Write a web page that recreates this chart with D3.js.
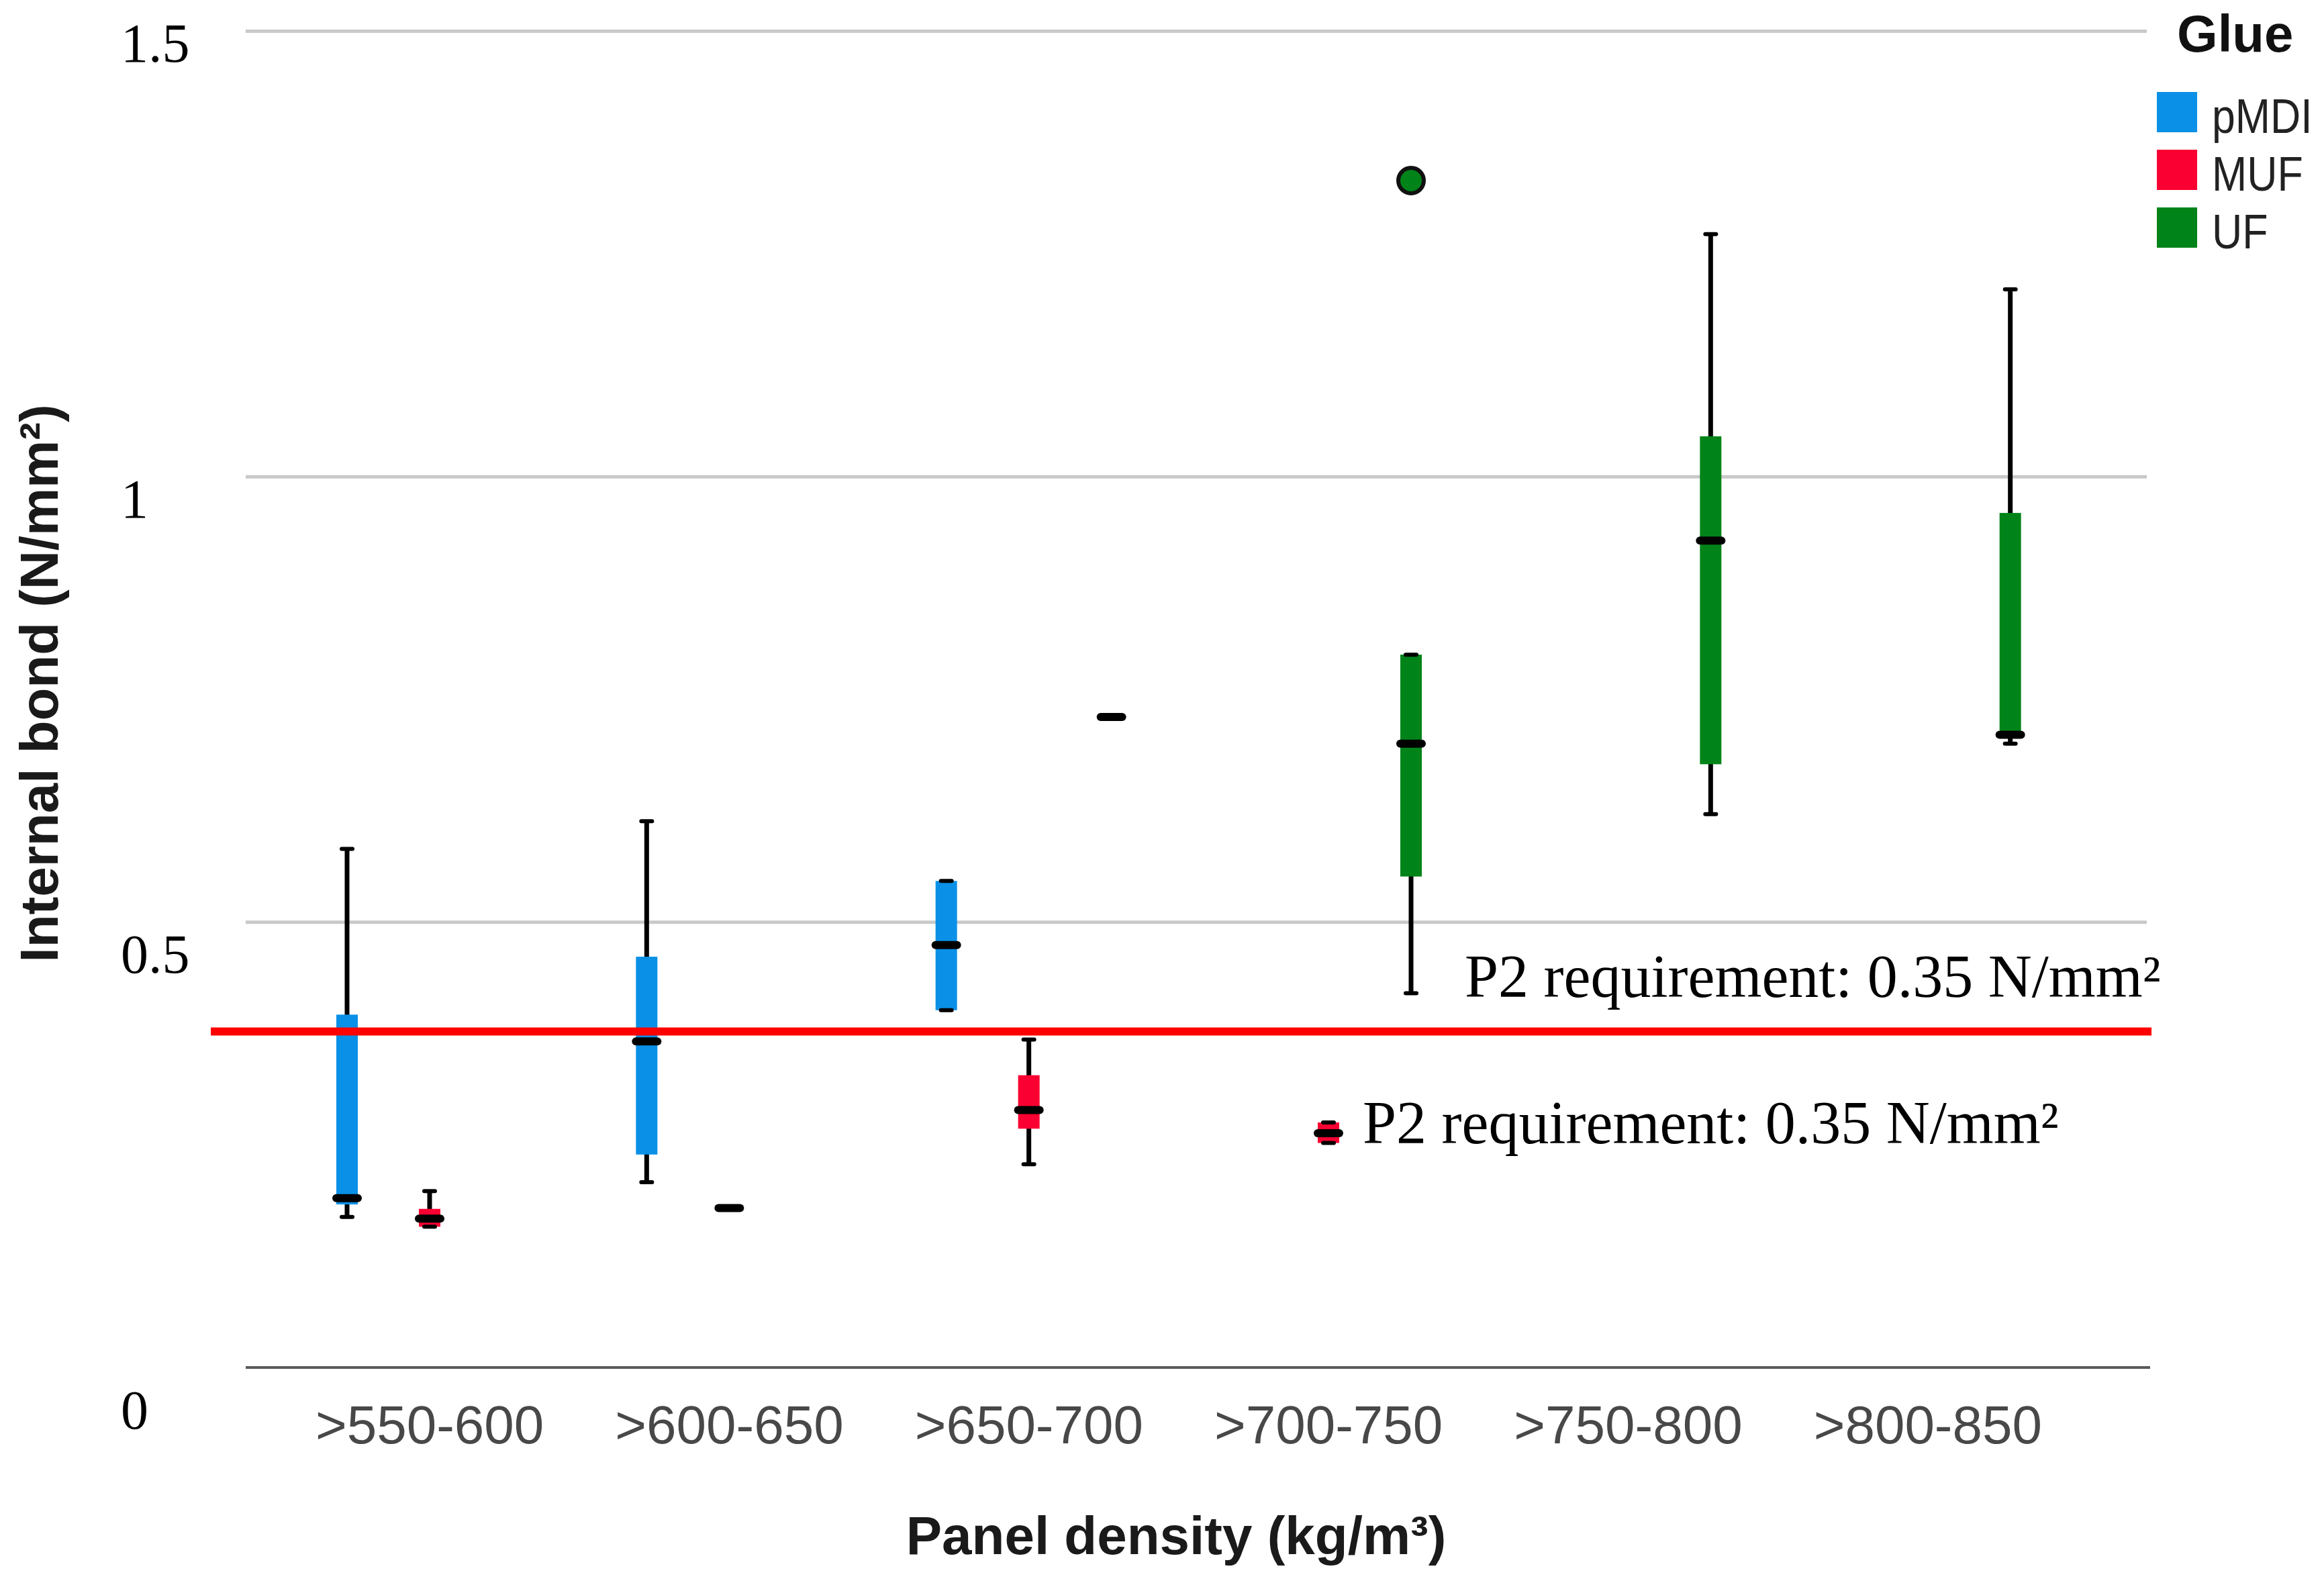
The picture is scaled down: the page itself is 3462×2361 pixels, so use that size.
<!DOCTYPE html>
<html>
<head>
<meta charset="utf-8">
<script src="https://cdn.jsdelivr.net/npm/d3@7"></script>
<style>
  body { margin: 0; background: #fff; }
  svg { display: block; }
</style>
</head>
<body>
<svg id="chart" width="3462" height="2361"></svg>
<script>
// categories and glue types
var categories = [">550-600", ">600-650", ">650-700", ">700-750", ">750-800", ">800-850"];
var glues = ["pMDI", "MUF", "UF"];
var glueColors = ["#0a90e6", "#fa0032", "#008318"];

// box stats per category: [low whisker, q1, median, q3, high whisker], null = no data
var pMDI = [
  [0.169, 0.183, 0.190, 0.396, 0.582],
  [0.208, 0.239, 0.366, 0.461, 0.613],
  [0.401, 0.401, 0.474, 0.546, 0.546],
  null, null, null
];
var MUF = [
  [0.158, 0.158, 0.167, 0.178, 0.198],
  [0.179, 0.179, 0.179, 0.179, 0.179],
  [0.228, 0.268, 0.289, 0.328, 0.368],
  [0.252, 0.252, 0.263, 0.275, 0.275],
  null, null
];
var UF = [
  null, null,
  [0.730, 0.730, 0.730, 0.730, 0.730],
  [0.420, 0.551, 0.700, 0.800, 0.800],
  [0.621, 0.677, 0.928, 1.045, 1.272],
  [0.700, 0.710, 0.710, 0.959, 1.210]
];
var outliers = [{cat: ">700-750", glue: "UF", value: 1.332}];

var yTicks = [0, 0.5, 1, 1.5];
var requirement = 0.377;
var reqLabel = "P2 requirement: 0.35 N/mm\u00B2";

var svg = d3.select("#chart");
var plotL = 366, plotR = 3198, plotT = 46, plotB = 2037;

var y = d3.scaleLinear().domain([0, 1.5]).range([plotB, plotT]);
// tick labels sit a little below their grid lines in the original
var yLab = d3.scaleLinear().domain([0, 1.5]).range([2128, 92]);

var x0 = d3.scaleBand().domain(categories).range([417, 3095]);
var x1 = d3.scalePoint().domain(glues).range([100, 346]);
var color = d3.scaleOrdinal().domain(glues).range(glueColors);

// grid
var grid = svg.append("g")
    .attr("transform", "translate(" + plotL + ",0)")
    .call(d3.axisLeft(y).tickValues(yTicks.filter(d => d > 0)).tickSize(-(plotR - plotL)).tickFormat(""));
grid.select(".domain").remove();
grid.selectAll("line").attr("stroke", "#c9c9c9").attr("stroke-width", 5);

svg.append("line")
    .attr("x1", plotL).attr("x2", 3203)
    .attr("y1", y(0)).attr("y2", y(0))
    .attr("stroke", "#5a5a5a").attr("stroke-width", 4);

svg.selectAll(".ylab")
    .data(yTicks)
    .enter().append("text")
    .attr("class", "ylab")
    .attr("x", 180)
    .attr("y", d => yLab(d))
    .attr("font-family", "Liberation Serif, Times New Roman, serif")
    .attr("font-size", 82)
    .attr("fill", "#000")
    .text(d => d3.format("")(d));

// x axis labels
var xa = svg.append("g")
    .attr("transform", "translate(0,2150)")
    .call(d3.axisBottom(x0).tickSize(0).tickPadding(0));
xa.select(".domain").remove();
xa.selectAll("text")
    .attr("dy", 0)
    .attr("y", 0)
    .attr("font-family", "Liberation Sans, Arial, sans-serif")
    .attr("font-size", 80)
    .attr("fill", "#484848");

// axis titles
svg.append("text")
    .attr("transform", "translate(86,1018) rotate(-90)")
    .attr("text-anchor", "middle")
    .attr("font-family", "Liberation Sans, Arial, sans-serif")
    .attr("font-weight", "bold")
    .attr("font-size", 80)
    .attr("fill", "#1a1a1a")
    .text("Internal bond (N/mm\u00B2)");

svg.append("text")
    .attr("x", 1752).attr("y", 2315)
    .attr("text-anchor", "middle")
    .attr("font-family", "Liberation Sans, Arial, sans-serif")
    .attr("font-weight", "bold")
    .attr("font-size", 80)
    .attr("fill", "#1a1a1a")
    .text("Panel density (kg/m\u00B3)");

// boxes
var series = {pMDI: pMDI, MUF: MUF, UF: UF};
var boxes = [];
glues.forEach(gl => {
  series[gl].forEach((s, i) => {
    if (s) boxes.push({cat: categories[i], glue: gl, lo: s[0], q1: s[1], med: s[2], q3: s[3], hi: s[4]});
  });
});

var boxW = 32;
var bx = svg.append("g").selectAll(".box")
    .data(boxes)
    .enter().append("g")
    .attr("class", "box")
    .attr("transform", d => "translate(" + (x0(d.cat) + x1(d.glue)) + ",0)");

var full = bx.filter(d => d.hi > d.lo);

full.append("line")
    .attr("x1", 0).attr("x2", 0)
    .attr("y1", d => y(d.hi)).attr("y2", d => y(d.lo))
    .attr("stroke", "#000").attr("stroke-width", 7);

full.append("rect")
    .attr("x", -boxW / 2)
    .attr("width", boxW)
    .attr("y", d => y(d.q3))
    .attr("height", d => y(d.q1) - y(d.q3))
    .attr("fill", d => color(d.glue));

full.selectAll(".cap")
    .data(d => [d.hi, d.lo])
    .enter().append("line")
    .attr("class", "cap")
    .attr("x1", -8).attr("x2", 8)
    .attr("y1", d => y(d)).attr("y2", d => y(d))
    .attr("stroke", "#000").attr("stroke-width", 6)
    .attr("stroke-linecap", "round");

bx.append("line")
    .attr("x1", -16).attr("x2", 16)
    .attr("y1", d => y(d.med)).attr("y2", d => y(d.med))
    .attr("stroke", "#000").attr("stroke-width", 12)
    .attr("stroke-linecap", "round");

// outliers
svg.selectAll(".outlier")
    .data(outliers)
    .enter().append("circle")
    .attr("class", "outlier")
    .attr("cx", d => x0(d.cat) + x1(d.glue))
    .attr("cy", d => y(d.value))
    .attr("r", 19)
    .attr("fill", d => color(d.glue))
    .attr("stroke", "#111").attr("stroke-width", 6);

// requirement line and labels
svg.append("line")
    .attr("x1", 314).attr("x2", 3205)
    .attr("y1", y(requirement)).attr("y2", y(requirement))
    .attr("stroke", "#ff0000").attr("stroke-width", 12);

svg.append("text")
    .attr("x", 2182).attr("y", y(requirement) - 52)
    .attr("font-family", "Liberation Serif, Times New Roman, serif")
    .attr("font-size", 90)
    .attr("fill", "#000")
    .text(reqLabel);

svg.append("text")
    .attr("x", 2030).attr("y", y(requirement) + 166)
    .attr("font-family", "Liberation Serif, Times New Roman, serif")
    .attr("font-size", 90)
    .attr("fill", "#000")
    .text(reqLabel);

// legend
var legend = svg.append("g").attr("transform", "translate(3213,0)");
legend.append("text")
    .attr("x", 30).attr("y", 77)
    .attr("font-family", "Liberation Sans, Arial, sans-serif")
    .attr("font-weight", "bold")
    .attr("font-size", 78)
    .attr("fill", "#111")
    .text("Glue");

var items = legend.selectAll(".item")
    .data(glues)
    .enter().append("g")
    .attr("class", "item")
    .attr("transform", (d, i) => "translate(0," + (137 + i * 86) + ")");

items.append("rect")
    .attr("width", 60).attr("height", 60)
    .attr("fill", d => color(d));

items.append("text")
    .attr("transform", "translate(82,61) scale(0.87,1)")
    .attr("font-family", "Liberation Sans, Arial, sans-serif")
    .attr("font-size", 72)
    .attr("fill", "#222")
    .text(d => d);
</script>
</body>
</html>
